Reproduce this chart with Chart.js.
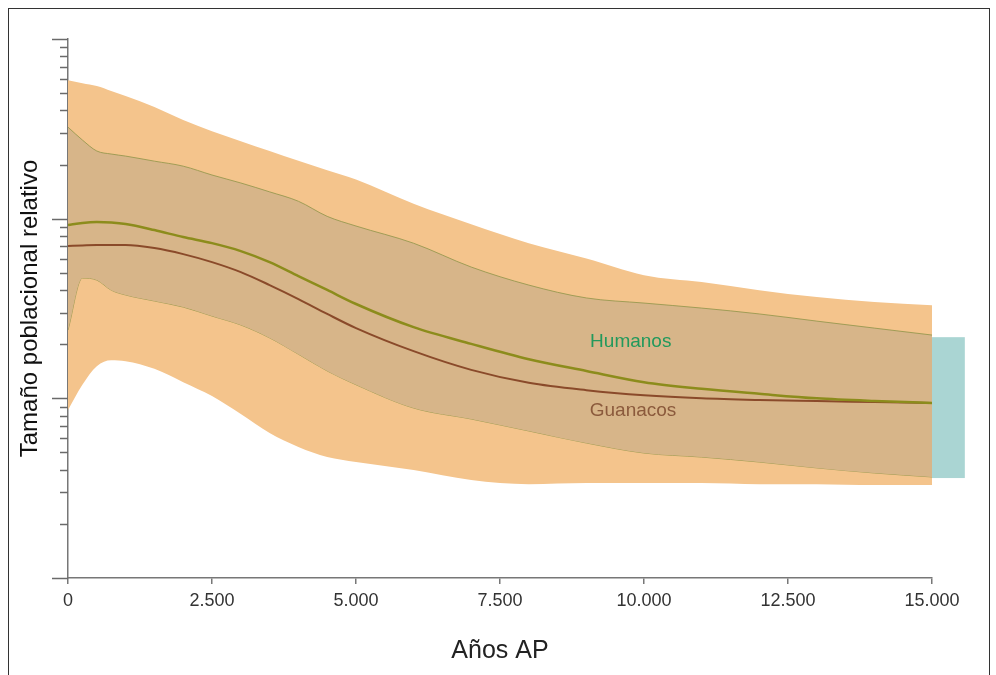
<!DOCTYPE html>
<html>
<head>
<meta charset="utf-8">
<script src="https://cdn.jsdelivr.net/npm/chart.js@4.4.1/dist/chart.umd.min.js"></script>
<style>
  html, body { margin: 0; padding: 0; background: #fff; overflow: hidden; }
  #wrap { position: relative; width: 996px; height: 675px; }
  #frame {
    position: absolute; left: 8px; top: 8px; width: 980px; height: 700px;
    border: 1px solid #333; pointer-events: none;
  }
</style>
</head>
<body>
<div id="wrap">
  <canvas id="chart" width="996" height="675"></canvas>
  <div id="frame"></div>
</div>
<script>
// años AP
const years = [0, 250, 500, 750, 1000, 1500, 2000, 2500, 3000, 3500, 4000, 4500, 5000,
  6000, 7000, 8000, 9000, 10000, 11000, 12000, 13000, 14000, 15000];

// banda exterior (naranja)
const outerHigh = [590, 568, 547, 513, 481, 418, 354, 307, 270, 238, 210, 186, 165,
  121, 93, 73, 60, 48.5, 44.4, 40, 36.6, 34.4, 33.0];
const outerLow = [8.6, 11.9, 15.1, 16.3, 16.1, 14.6, 12.3, 10.3, 8.18, 6.41, 5.36, 4.71, 4.42,
  3.99, 3.51, 3.33, 3.38, 3.38, 3.38, 3.33, 3.33, 3.29, 3.29];

// banda interior
const innerHigh = [323, 274, 238, 229, 223, 209, 196, 175, 158, 141, 125, 103, 91,
  73, 53.8, 42.7, 36.2, 33.9, 31.8, 29.5, 26.9, 24.6, 22.5];
const innerLow = [24, 46.7, 45.5, 40, 37.6, 34.8, 32.2, 28.7, 25.6, 21.7, 17.6, 14.2, 11.9,
  8.83, 7.67, 6.58, 5.64, 4.96, 4.71, 4.42, 4.10, 3.84, 3.65];

// medianas
const humanos = [92.1, 94.6, 95.7, 95.1, 93.3, 86.4, 79.0, 73.1, 66.0, 57.3, 47.9, 40.1, 33.5,
  24.9, 20.1, 16.5, 14.2, 12.3, 11.3, 10.6, 10.0, 9.66, 9.42];
const guanacos = [70.4, 70.9, 71.3, 71.3, 71.3, 68.6, 63.5, 57.3, 50.4, 42.7, 35.7, 29.5, 24.6,
  18.3, 14.4, 12.2, 11.1, 10.4, 10.0, 9.79, 9.66, 9.54, 9.42];

// rectángulo celeste a la derecha
const tealX = [15000, 15570];
const tealY = [3.6, 21.9];

// etiquetas de las series
const seriesLabels = [
  { text: 'Humanos', x: 9770, y: 20.6, color: '#22995c' },
  { text: 'Guanacos', x: 9810, y: 8.5, color: '#8b5a3c' }
];

// marcas del eje y (log)
const yDecades = [1, 10, 100, 1000];
const yMultiples = [1, 2, 3, 4, 5, 6, 7, 8, 9];

const xTicks = [0, 2500, 5000, 7500, 10000, 12500, 15000];

const pts = (arr) => years.map((x, i) => ({ x: x, y: arr[i] }));

// miles con punto
const fmt = (v) => String(v).replace(/\B(?=(\d{3})+(?!\d))/g, '.');

const tealBox = {
  id: 'tealBox',
  beforeDatasetsDraw(chart) {
    const { ctx, scales: { x, y } } = chart;
    const x1 = x.getPixelForValue(tealX[0]);
    const x2 = x.getPixelForValue(tealX[1]);
    const y1 = y.getPixelForValue(tealY[1]);
    const y2 = y.getPixelForValue(tealY[0]);
    ctx.save();
    ctx.fillStyle = '#aad5d3';
    ctx.fillRect(x1, y1, x2 - x1, y2 - y1);
    ctx.restore();
  }
};

const yTickMarks = {
  id: 'yTickMarks',
  afterDraw(chart) {
    const { ctx, scales: { y } } = chart;
    const left = y.right;
    ctx.save();
    ctx.strokeStyle = '#6a6a6a';
    ctx.lineWidth = 1.5;
    yDecades.forEach((d) => {
      yMultiples.forEach((m) => {
        const v = d * m;
        if (v > y.max) return;
        const len = m === 1 ? 16 : 8;
        const py = Math.round(y.getPixelForValue(v)) + 0.5;
        ctx.beginPath();
        ctx.moveTo(left - len, py);
        ctx.lineTo(left, py);
        ctx.stroke();
      });
    });
    ctx.restore();
  }
};

const labelText = {
  id: 'labelText',
  afterDatasetsDraw(chart) {
    const { ctx, scales: { x, y } } = chart;
    ctx.save();
    ctx.font = '19px "Liberation Sans", Arial, sans-serif';
    ctx.textAlign = 'center';
    ctx.textBaseline = 'middle';
    seriesLabels.forEach((l) => {
      ctx.fillStyle = l.color;
      ctx.fillText(l.text, x.getPixelForValue(l.x), y.getPixelForValue(l.y));
    });
    ctx.restore();
  }
};

new Chart(document.getElementById('chart'), {
  type: 'line',
  data: {
    datasets: [
      {
        label: 'outerLow', data: pts(outerLow), order: 8,
        borderWidth: 0, borderColor: 'rgba(0,0,0,0)', fill: false
      },
      {
        label: 'outerHigh', data: pts(outerHigh), order: 7,
        borderWidth: 0, borderColor: 'rgba(0,0,0,0)',
        backgroundColor: '#f4c48c', fill: '-1'
      },
      {
        label: 'innerLow', data: pts(innerLow), order: 6,
        borderWidth: 0.8, borderColor: '#8f9448', fill: false
      },
      {
        label: 'innerHigh', data: pts(innerHigh), order: 5,
        borderWidth: 0.8, borderColor: '#8f9448',
        backgroundColor: '#d7b589', fill: '-1'
      },
      {
        label: 'Guanacos', data: pts(guanacos), order: 2,
        borderWidth: 2, borderColor: '#8a4a2a', fill: false
      },
      {
        label: 'Humanos', data: pts(humanos), order: 1,
        borderWidth: 2.5, borderColor: '#8c8c1c', fill: false
      }
    ]
  },
  options: {
    responsive: false,
    animation: false,
    events: [],
    layout: { padding: { top: 39, right: 64, bottom: 0, left: 0 } },
    elements: {
      point: { radius: 0 },
      line: { cubicInterpolationMode: 'monotone' }
    },
    plugins: {
      legend: { display: false },
      tooltip: { enabled: false }
    },
    scales: {
      x: {
        type: 'linear',
        min: 0,
        max: 15000,
        afterFit: (s) => { s.height = 97; },
        afterBuildTicks: (s) => { s.ticks = xTicks.map((v) => ({ value: v })); },
        border: { display: true, color: '#777', width: 1.5 },
        grid: { drawOnChartArea: false, drawTicks: true, tickLength: 6, color: '#777', lineWidth: 1.5 },
        ticks: {
          padding: 6,
          color: '#333',
          font: { family: '"Liberation Sans", Arial, sans-serif', size: 18 },
          callback: (v) => fmt(v),
          maxRotation: 0
        },
        title: {
          display: true,
          text: 'Años AP',
          color: '#222',
          font: { family: '"Liberation Sans", Arial, sans-serif', size: 25 },
          padding: { top: 0, bottom: 9 }
        }
      },
      y: {
        type: 'logarithmic',
        min: 1,
        max: 1000,
        afterFit: (s) => { s.width = 68; },
        border: { display: true, color: '#777', width: 1.5 },
        grid: { drawOnChartArea: false, drawTicks: false },
        ticks: { display: false },
        title: {
          display: true,
          text: 'Tamaño poblacional relativo',
          color: '#111',
          font: { family: '"Liberation Sans", Arial, sans-serif', size: 24 },
          padding: { top: 16, bottom: 0 }
        }
      }
    }
  },
  plugins: [tealBox, yTickMarks, labelText]
});
</script>
</body>
</html>
